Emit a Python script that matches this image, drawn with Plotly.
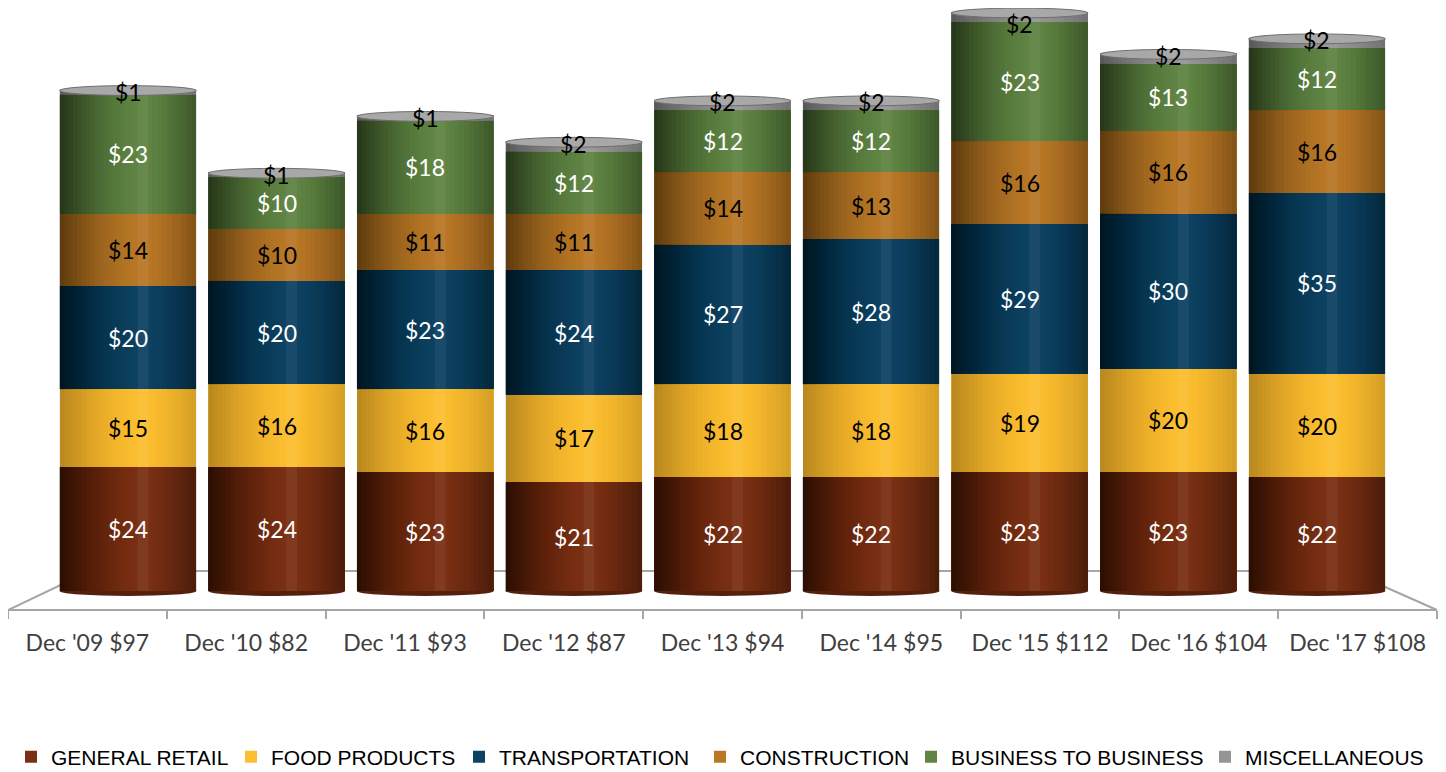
import plotly.graph_objects as go

# ---------------- data ----------------
categories = ["Dec '09 $97", "Dec '10 $82", "Dec '11 $93", "Dec '12 $87", "Dec '13 $94",
              "Dec '14 $95", "Dec '15 $112", "Dec '16 $104", "Dec '17 $108"]
general_retail = [24, 24, 23, 21, 22, 22, 23, 23, 22]
food_products = [15, 16, 16, 17, 18, 18, 19, 20, 20]
transportation = [20, 20, 23, 24, 27, 28, 29, 30, 35]
construction = [14, 10, 11, 11, 14, 13, 16, 16, 16]
business_to_business = [23, 10, 18, 12, 12, 12, 23, 13, 12]
miscellaneous = [1, 1, 1, 2, 2, 2, 2, 2, 2]

# (name, values, colour, label colour, shading strength, legend width)
series = [
    ("GENERAL RETAIL", general_retail, "#7A3014", "white", 1.0, 175),
    ("FOOD PRODUCTS", food_products, "#FBBE30", "black", 0.4, 183),
    ("TRANSPORTATION", transportation, "#0E4262", "white", 1.0, 196),
    ("CONSTRUCTION", construction, "#B87726", "black", 0.75, 166),
    ("BUSINESS TO BUSINESS", business_to_business, "#5F8443", "white", 0.9, 249),
    ("MISCELLANEOUS", miscellaneous, "#959595", "black", 0.6, 200),
]

# the page body has an 8px margin: the figure is drawn from (8, 8)
OFF = 8
W, H = 1446 - OFF, 772 - OFF
BAR_W = 0.92
LABEL_FONT = "Lato, 'Open Sans', sans-serif"


def px(x):
    return (x - OFF) / W


def py(y):
    return 1 - (y - OFF) / H


fig = go.Figure()
idx = list(range(len(categories)))
for name, vals, col, _, _, lw in series:
    fig.add_trace(go.Bar(
        x=idx, y=vals, name=name, marker=dict(color=col, line=dict(width=0)),
        width=BAR_W, hoverinfo="skip", legendwidth=lw,
    ))

# dummy trace so the label axis shows categories
fig.add_trace(go.Scatter(x=categories, y=[None] * len(categories), xaxis="x2", yaxis="y",
                         showlegend=False, hoverinfo="skip", mode="markers"))

totals = [sum(s[1][i] for s in series) for i in idx]

shapes = []
floor_col = "#A6A6A6"
for (x0, y0, x1, y1) in [(8, 610, 90, 571), (90, 571, 1349, 571), (1349, 571, 1437, 610)]:
    shapes.append(dict(type="line", xref="paper", yref="paper", x0=px(x0), y0=py(y0),
                       x1=px(x1), y1=py(y1), line=dict(color=floor_col, width=2), layer="below"))

ell_h = 0.95
for i in idx:
    shapes.append(dict(type="circle", xref="x", yref="y", x0=i - BAR_W / 2, x1=i + BAR_W / 2,
                       y0=-ell_h, y1=ell_h, fillcolor="#55200E", line=dict(width=0), layer="below"))

# darkness profile across a cylinder (0 = left edge, 1 = right edge)
PEAK_L, PEAK_R = 0.58, 0.64


def dark_left(t):  # t in [0, PEAK_L]
    u = 1 - t / PEAK_L
    return 0.62 * u ** 1.6


def dark_right(t):  # t in [PEAK_R, 1]
    u = (t - PEAK_R) / (1 - PEAK_R)
    return 0.36 * u ** 1.4


ML, MR = 18, 10
for i in idx:
    left = i - BAR_W / 2
    cum = 0
    for name, vals, col, tcol, strength, _ in series:
        y0, y1 = cum, cum + vals[i]
        cum = y1
        prev = 0.0
        for m in range(ML):
            b_hi = PEAK_L * (1 - m / ML)
            b_lo = PEAK_L * (1 - (m + 1) / ML)
            d = dark_left((b_hi + b_lo) / 2) * strength
            a = 1 - (1 - d) / (1 - prev)
            prev = d
            shapes.append(dict(type="rect", xref="x", yref="y", x0=left,
                               x1=left + BAR_W * b_hi, y0=y0, y1=y1,
                               fillcolor=f"rgba(0,0,0,{max(a, 0):.4f})",
                               line=dict(width=0), layer="above"))
        prev = 0.0
        for m in range(MR):
            b_lo = PEAK_R + (1 - PEAK_R) * m / MR
            b_hi = PEAK_R + (1 - PEAK_R) * (m + 1) / MR
            d = dark_right((b_hi + b_lo) / 2) * strength
            a = 1 - (1 - d) / (1 - prev)
            prev = d
            shapes.append(dict(type="rect", xref="x", yref="y", x0=left + BAR_W * b_lo,
                               x1=i + BAR_W / 2, y0=y0, y1=y1,
                               fillcolor=f"rgba(0,0,0,{max(a, 0):.4f})",
                               line=dict(width=0), layer="above"))
    shapes.append(dict(type="rect", xref="x", yref="y",
                       x0=left + BAR_W * 0.57, x1=left + BAR_W * 0.65, y0=0, y1=totals[i],
                       fillcolor="rgba(255,255,255,0.05)", line=dict(width=0), layer="above"))
    shapes.append(dict(type="circle", xref="x", yref="y", x0=left, x1=i + BAR_W / 2,
                       y0=totals[i] - 1.15, y1=totals[i] + 0.75,
                       fillcolor="#A8A8A8", line=dict(color="#6E6E6E", width=1), layer="above"))

ZERO_PX, SCALE = 591, 5.17
Y_LO = -5
Y_HI = (ZERO_PX - OFF) / SCALE

# value labels
annotations = []
for i in idx:
    cum = 0
    for name, vals, col, tcol, _, _ in series:
        v = vals[i]
        if name != "MISCELLANEOUS":
            ypos = cum + v / 2
        else:
            ypos = min(cum + v - 0.5, Y_HI - 3.1)
        annotations.append(dict(x=i, y=ypos, xref="x", yref="y", text=f"${v}", showarrow=False,
                                font=dict(family=LABEL_FONT, size=23, color=tcol)))
        cum += v

fig.update_layout(
    width=W, height=H, barmode="stack", bargap=0.08,
    paper_bgcolor="white", plot_bgcolor="rgba(0,0,0,0)",
    margin=dict(l=0, r=0, t=0, b=0, autoexpand=False),
    xaxis=dict(domain=[px(53.7), px(1391.3)], range=[-0.5, 8.5], visible=False, fixedrange=True),
    yaxis=dict(domain=[py(ZERO_PX - Y_LO * SCALE), 1],
               range=[Y_LO, Y_HI], visible=False, fixedrange=True),
    xaxis2=dict(domain=[px(8), px(1437)], type="category", categoryorder="array",
                categoryarray=categories, range=[-0.5, 8.5], anchor="free", position=py(610),
                showline=True, linecolor=floor_col, linewidth=2, ticks="outside",
                tickson="boundaries", ticklen=8, tickcolor=floor_col, tickwidth=2,
                showgrid=False, zeroline=False, ticklabelstandoff=12, automargin=False,
                tickfont=dict(family=LABEL_FONT, size=23, color="#404040")),
    showlegend=True,
    legend=dict(orientation="h", x=px(11), xanchor="left", y=py(757), yanchor="middle",
                font=dict(family="'Liberation Sans Narrow', 'Arial Narrow', 'Liberation Sans', sans-serif",
                          size=21, color="#000000"),
                itemwidth=30, traceorder="normal", entrywidthmode="pixels"),
    shapes=shapes, annotations=annotations,
)

fig.write_html("out.html")
